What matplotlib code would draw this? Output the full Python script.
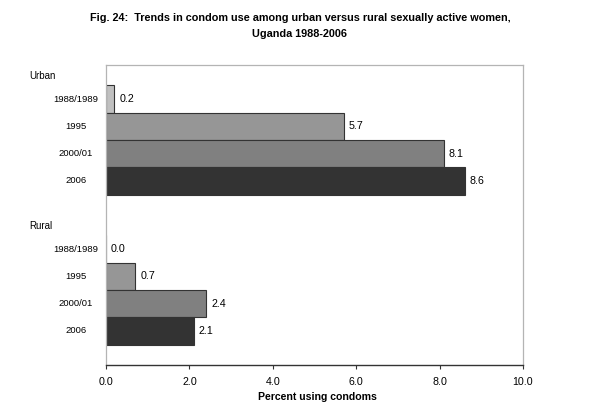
import matplotlib
matplotlib.use("Agg")
import matplotlib.pyplot as plt
import matplotlib.transforms as mtransforms

# data
years = ['1988/1989', '1995', '2000/01', '2006']
urban_values = [0.2, 5.7, 8.1, 8.6]
rural_values = [0.0, 0.7, 2.4, 2.1]
group_names = ['Urban', 'Rural']
year_colors = ['#c0c0c0', '#969696', '#808080', '#333333']
x_ticks = [0.0, 2.0, 4.0, 6.0, 8.0, 10.0]

NARROW = ['Liberation Sans Narrow', 'Liberation Sans']
REGULAR = ['Liberation Sans', 'DejaVu Sans']

fig = plt.figure(figsize=(6.0, 4.09), dpi=100)
ax = fig.add_axes([0.1767, 0.1076, 0.695, 0.7335])

group_starts = [1.25, 6.75]
label_trans = mtransforms.blended_transform_factory(fig.transFigure, ax.transData)

for group_name, start, values in zip(group_names, group_starts, [urban_values, rural_values]):
    positions = [start + i for i in range(len(years))]
    bars = ax.barh(positions, values, height=1.0, color=year_colors,
                   edgecolor='#333333', linewidth=0.8)
    for bar, value in zip(bars, values):
        ax.annotate(f'{value:.1f}', xy=(bar.get_width(), bar.get_y() + bar.get_height() / 2),
                    xytext=(5, 0), textcoords='offset pixels', ha='left', va='center',
                    fontsize=7.7, family=REGULAR, color='black')
    for pos, year in zip(positions, years):
        ax.text(76 / 600, pos, year, transform=label_trans, ha='center', va='center',
                fontsize=6.8, family=NARROW, color='black')
    ax.text(29 / 600, start - 0.85, group_name, transform=label_trans, ha='left', va='center',
            fontsize=7, family=NARROW, color='black')

ax.set_xlim(0, 10)
ax.set_ylim(11, 0)
ax.set_yticks([])
ax.set_xticks(x_ticks)
ax.set_xticklabels([f'{t:.1f}' for t in x_ticks], fontsize=7.7, family=REGULAR)
ax.tick_params(axis='x', direction='out', length=3, width=0.8, color='#333333', pad=6)

for side in ['top', 'right', 'left']:
    ax.spines[side].set_color('#b4b4b4')
    ax.spines[side].set_linewidth(0.9)
ax.spines['bottom'].set_color('#333333')
ax.spines['bottom'].set_linewidth(1.0)

fig.text(317 / 600, 1 - 397 / 409, 'Percent using condoms', ha='center', va='center',
         fontsize=7.6, fontweight='bold', family=NARROW)
fig.text(300 / 600, 1 - 18 / 409,
         'Fig. 24:  Trends in condom use among urban versus rural sexually active women,',
         ha='center', va='center', fontsize=7.8, fontweight='bold', family=NARROW)
fig.text(300 / 600, 1 - 34 / 409, 'Uganda 1988-2006',
         ha='center', va='center', fontsize=7.8, fontweight='bold', family=NARROW)

fig.savefig('out.png', dpi=100)
